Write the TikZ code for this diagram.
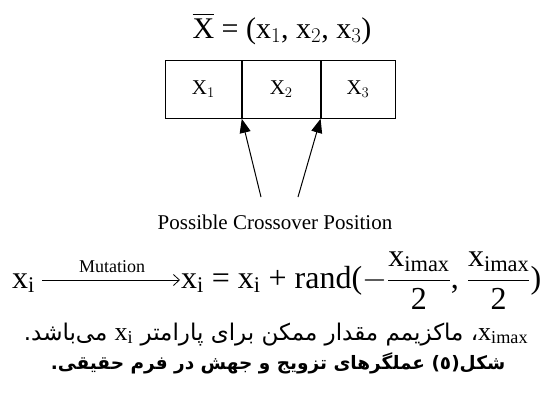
\documentclass[tikz,border=0pt]{standalone}
\usepackage{fix-cm}
\usepackage{amsmath}
\usepackage{fontspec}
\setmainfont{Liberation Serif}
\newfontfamily\arabicfont[Script=Arabic]{DejaVu Sans}
\TeXXeTstate=1
\usetikzlibrary{arrows.meta}
\tikzset{
  cell/.style={draw, line width=0.8pt, minimum width=76pt, minimum height=58pt, inner sep=0pt, font=\fontsize{21}{24}\selectfont},
  pointer/.style={line width=1pt, -{Triangle[length=14pt,width=11pt]}},
  mutarrow/.style={line width=0.8pt, -{Straight Barb[length=6pt,width=11pt]}, shorten <=7pt, shorten >=1pt},
  txt/.style={inner sep=0pt, anchor=base},
  eq/.style={inner sep=0pt, font=\fontsize{32}{36}\selectfont}
}
\newcommand{\rx}{\mathrm{x}}
\newcommand{\tp}[1]{\text{#1}}
\begin{document}
\begin{tikzpicture}[x=1pt,y=-1pt]
\useasboundingbox (0,0) rectangle (549,407);
\node[txt] (title) at (282,38) {\fontsize{30}{34}\selectfont $\overline{\mathrm{X}}\tp{ = (}\rx_1\tp{, }\rx_2\tp{, }\rx_3\tp{)}$};
\node[cell, anchor=north west] (c1) at (165,60) {$\mathrm{X}_1$};
\node[cell, anchor=north west, minimum width=78pt] (c2) at (c1.north east) {$\mathrm{X}_2$};
\node[cell, anchor=north west, minimum width=74pt] (c3) at (c2.north east) {$\mathrm{X}_3$};
\coordinate (t1) at (261,197);
\coordinate (t2) at (298,197);
\draw[pointer] (t1) -- (c1.south east);
\draw[pointer] (t2) -- (c2.south east);
\node[txt] (cross) at (275,229) {\fontsize{21}{25}\selectfont Possible Crossover Position};
\node[eq, anchor=base west] (xi) at (12,288) {$\rx_\mathrm{i}$};
\node[eq, anchor=base west] (rhs) at (181,288) {$\rx_\mathrm{i}\tp{ = }\rx_\mathrm{i}\tp{ + }\mathrm{rand}\tp{(}{-}\dfrac{\rx_\mathrm{imax}}{\tp{2}}\tp{, }\dfrac{\rx_\mathrm{imax}}{\tp{2}}\tp{)}$};
\coordinate (axis) at (0,280);
\draw[mutarrow] (xi.east |- axis) -- (rhs.west |- axis);
\node[txt] (mutlbl) at (112,272) {\fontsize{18}{20}\selectfont Mutation};
\node[txt] (note) at (276,340) {\fontsize{23}{28}\arabicfont\beginR\hbox{\fontsize{26}{28}\rmfamily$\rx_\mathrm{imax}$}، ماکزیمم مقدار ممکن برای پارامتر \hbox{\fontsize{26}{28}\rmfamily$\rx_\mathrm{i}$} می‌باشد.\endR};
\node[txt] (cap) at (278,369) {\fontsize{18.5}{24}\arabicfont\bfseries\beginR شکل(٥) عملگرهای تزویج و جهش در فرم حقیقی.\endR};
\end{tikzpicture}
\end{document}
